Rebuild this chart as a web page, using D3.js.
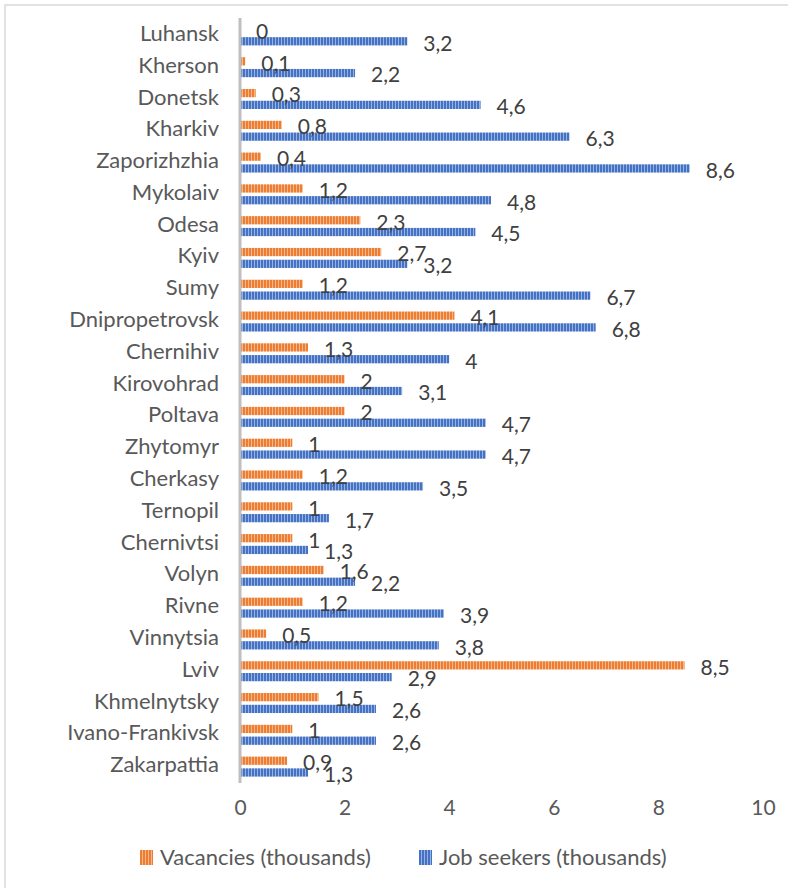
<!DOCTYPE html>
<html>
<head>
<meta charset="utf-8">
<script src="https://cdn.jsdelivr.net/npm/d3@7"></script>
<style>
  html, body { margin: 0; padding: 0; background: #fff; }
  svg { display: block; font-family: Lato, "Open Sans", sans-serif; }
</style>
</head>
<body>
<svg id="chart" width="788" height="888"></svg>
<script>
// Regions, top to bottom as listed on the chart
const regions = [
  "Luhansk", "Kherson", "Donetsk", "Kharkiv", "Zaporizhzhia", "Mykolaiv",
  "Odesa", "Kyiv", "Sumy", "Dnipropetrovsk", "Chernihiv", "Kirovohrad",
  "Poltava", "Zhytomyr", "Cherkasy", "Ternopil", "Chernivtsi", "Volyn",
  "Rivne", "Vinnytsia", "Lviv", "Khmelnytsky", "Ivano-Frankivsk", "Zakarpattia"
];
const vacancies = [
  0, 0.1, 0.3, 0.8, 0.4, 1.2, 2.3, 2.7, 1.2, 4.1, 1.3, 2,
  2, 1, 1.2, 1, 1, 1.6, 1.2, 0.5, 8.5, 1.5, 1, 0.9
];
const jobSeekers = [
  3.2, 2.2, 4.6, 6.3, 8.6, 4.8, 4.5, 3.2, 6.7, 6.8, 4, 3.1,
  4.7, 4.7, 3.5, 1.7, 1.3, 2.2, 3.9, 3.8, 2.9, 2.6, 2.6, 1.3
];
const xTicks = [0, 2, 4, 6, 8, 10];
const seriesNames = ["Vacancies (thousands)", "Job seekers (thousands)"];
const seriesColors = ["#ED7D31", "#4472C4"];

const svg = d3.select("#chart");
const margin = { left: 240, right: 25, top: 18, bottom: 107 };
const W = 788, H = 888;
const FONT = 22;

// Outer frame
svg.append("rect")
  .attr("x", 5).attr("y", 5).attr("width", 800).attr("height", 900)
  .attr("fill", "none").attr("stroke", "#d9d9d9").attr("stroke-width", 1.5);

// Striped fills for the two series
const defs = svg.append("defs");
seriesColors.forEach((c, i) => {
  const p = defs.append("pattern")
    .attr("id", "stripe" + i)
    .attr("patternUnits", "userSpaceOnUse")
    .attr("width", 3).attr("height", 10);
  p.append("rect").attr("width", 3).attr("height", 10).attr("fill", c);
  p.append("rect").attr("x", 2).attr("width", 1).attr("height", 10)
    .attr("fill", d3.interpolateRgb(c, "#fff")(0.45));
});

const x = d3.scaleLinear().domain([0, 10]).range([margin.left, 763]);
const y = d3.scaleBand().domain(regions).range([margin.top, H - margin.bottom]);
const sub = d3.scaleBand().domain([0, 1]).range([-8.5, 11.5]).paddingInner(0.3);

const rows = regions.map((r, i) => ({ region: r, values: [vacancies[i], jobSeekers[i]] }));
const fmt = v => d3.format("")(v).replace(".", ",");

const g = svg.append("g");
const row = g.selectAll("g.row").data(rows).join("g")
  .attr("class", "row")
  .attr("transform", d => `translate(0,${y(d.region) + y.bandwidth() / 2})`);

row.selectAll("rect.bar").data(d => d.values.map((v, s) => ({ v, s }))).join("rect")
  .attr("class", "bar")
  .attr("x", x(0))
  .attr("y", d => sub(d.s))
  .attr("width", d => x(d.v) - x(0))
  .attr("height", sub.bandwidth())
  .attr("fill", d => `url(#stripe${d.s})`);

row.selectAll("text.val").data(d => d.values.map((v, s) => ({ v, s }))).join("text")
  .attr("class", "val")
  .attr("x", d => x(d.v) + 16)
  .attr("y", d => sub(d.s) + sub.bandwidth() / 2 + 2)
  .attr("dy", "0.35em")
  .attr("font-size", 21)
  .attr("fill", "#404040")
  .text(d => fmt(d.v));

// Category axis
const yAxis = d3.axisLeft(y).tickSize(0).tickPadding(21);
const ya = svg.append("g").attr("transform", `translate(${x(0)},0)`).call(yAxis);
ya.select(".domain").attr("stroke", "#bfbfbf").attr("stroke-width", 3)
  .attr("d", `M0,${margin.top}V${H - margin.bottom + 2}`);
ya.selectAll("text").attr("font-size", FONT).attr("fill", "#595959")
  .attr("font-family", "Lato, sans-serif");

// Value axis labels
const xAxis = d3.axisBottom(x).tickValues(xTicks).tickSize(0).tickPadding(0)
  .tickFormat(d => fmt(d));
const xa = svg.append("g").attr("transform", `translate(0,800)`).call(xAxis);
xa.select(".domain").remove();
xa.selectAll("text").attr("font-size", 21).attr("fill", "#595959")
  .attr("font-family", "Lato, sans-serif");

// Legend
const legend = svg.append("g").attr("transform", "translate(0,857)");
const legendX = [140, 419];
seriesNames.forEach((n, i) => {
  const lg = legend.append("g").attr("transform", `translate(${legendX[i]},0)`);
  lg.append("rect").attr("x", 0).attr("y", -7).attr("width", 13).attr("height", 15)
    .attr("fill", `url(#stripe${i})`);
  lg.append("text").attr("x", 20).attr("dy", "0.35em")
    .attr("font-size", FONT).attr("fill", "#595959").text(n);
});
</script>
</body>
</html>
